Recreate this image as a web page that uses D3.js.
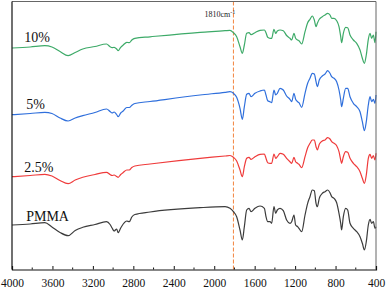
<!DOCTYPE html>
<html>
<head>
<meta charset="utf-8">
<script src="https://cdn.jsdelivr.net/npm/d3@7"></script>
<style>
html,body{margin:0;padding:0;background:#fff;}
svg{display:block;}
</style>
</head>
<body>
<svg id="chart" width="387" height="290"></svg>
<script>
// wavenumbers (cm-1), shared by all series
const wavenumbers = [4000,3820,3675,3605,3525,3445,3375,3300,3180,3065,3030,3010,2990,2965,2950,2925,2900,2865,2840,2815,2785,2635,2140,
  1893,1844,1810,1778,1745,1722,1702,1679,1656,1636,1597,1547,1504,1488,1471,1448,1432,1409,1392,1376,1349,1317,1284,1251,1234,1211,1195,1175,1162,1135,
  1102,1076,1053,1030,1010,993,980,961,931,904,878,855,838,815,789,766,749,740,723,700,680,657,624,591,558,535,515,496,476,459,443,426,410,400];

// transmittance (arbitrary units, stacked with offsets)
const pct10 = [222,223,224.3,223,218.5,214.3,217.5,221,223.5,226,223.3,222.3,222.7,221,219.3,222.7,225,227.7,227.3,230,231.7,233.2,237.7,
  239.3,239.7,237.3,233.3,223.3,216.7,225,236.7,237.3,235.3,237.3,239.7,240,237.3,232.7,231.7,231.7,240.7,236.5,239,240,239.3,234.5,231.7,230,236.7,231.7,230,229.3,226,
  238.3,247.3,250.7,254,250,243.3,246.7,250.7,253.3,255,256.7,255,251.7,251.7,249.3,243.3,233.3,227.3,236.7,242.7,242.3,235,230,226.7,220,211.7,206.7,215,230.7,236.7,231.7,235,227.3,238.3];

const pct5 = [155.3,156.5,157.7,156.5,152,149,152,154.3,157.5,161,158.5,157,158,155.5,153.3,157,159,162.5,162.5,164.7,166.5,168.5,175,
  177.7,178.3,176.7,172.7,161.7,150.7,163.3,175.7,176.7,173.3,176.7,179,180,175,169.3,168.3,167.3,180,175,176.7,181.7,180,174,170.7,168.3,176.7,170.7,168.3,167.3,162.7,
  176.7,186.7,191.7,196.7,196,188.3,183.3,190,194,196,199.3,196.7,193.3,191.7,188.3,180,170,163.3,171.7,181.7,181.7,173.3,166.7,163.3,158.3,148.3,139.3,148.3,165,173.3,168.3,170.7,166.7,175];

const pct2_5 = [93.3,94.5,95.7,94,89.5,86.3,90,92.7,95.5,97.7,95.5,94.5,95,93.5,92.7,95.5,97.5,100,100,102.5,104,106,111.7,
  114,114.5,112.7,109,100,93.3,103.3,111.7,112.7,110.7,113.3,115.7,116,111.7,107.3,106.7,106.7,116,111.7,113.3,116.7,115.7,111.7,108.3,106.7,112.7,108.3,106.7,105.7,102.3,
  113.3,122.3,126.7,130,130,123.3,120,125.7,129,130,132.3,131,128.3,126.7,124.3,118.3,110,106.7,113.3,118.3,117.7,111.7,106.7,103.3,98.3,91.7,86.7,95,111.7,115.7,111.7,114.3,110,116.7];

const pmma = [45,46,47.3,43,37.5,34.3,39.5,42.7,45.5,48.3,45.5,42,39,41,37.3,42,46,49,48.3,53,55.5,58,62.3,
  63.3,61.7,58.3,53.3,40,30,43.3,60,61.7,58.3,61.7,64,61.7,53.3,48.3,48.3,46.7,63.3,56.7,60,61.7,59.3,50,46.7,48.3,55,45,43.3,41.7,38.3,
  55,66.7,73.3,80,79.3,66.7,63.3,71.7,76.7,78.3,80,77.3,73.3,71.7,67.3,56.7,46.7,40,53.3,61.7,60,46.7,41.7,38.3,33.3,26.7,20,28.3,45,50.7,46.7,48.3,41.7,43.3];

const seriesNames = ["10%","5%","2.5%","PMMA"];
const seriesColors = ["#3daa68","#2f6fdc","#ef3b3b","#3c3c3c"];
const seriesValues = [pct10,pct5,pct2_5,pmma];
const labelAt = [3880,3860,3880,3860];
const labelValue = [228,161,98,49];

const xTicks = [4000,3600,3200,2800,2400,2000,1600,1200,800,400];
const xMinorTicks = [3800,3400,3000,2600,2200,1800,1400,1000,600];
const markerWn = 1810;
const markerText = "1810cm";
const markerSup = "-1";

const W = 387, H = 290;
const m = {left:12, right:11, top:1.5, bottom:20.5};
const svg = d3.select("#chart");

const x = d3.scaleLinear().domain([4000,400]).range([m.left, W - m.right]);
const y = d3.scaleLinear().domain([0,268]).range([270,2]);

const font = "'Liberation Serif','Times New Roman',serif";

// dashed marker line
svg.append("line")
  .attr("x1", x(markerWn)).attr("x2", x(markerWn))
  .attr("y1", m.top).attr("y2", H - m.bottom)
  .attr("stroke","#f2843f").attr("stroke-width",1)
  .attr("stroke-dasharray","4,2");

const mt = svg.append("text")
  .attr("x", x(markerWn) - 29).attr("y", 17)
  .attr("font-family", font).attr("font-size", 8).attr("fill","#222");
mt.append("tspan").text(markerText);
mt.append("tspan").attr("dy",-3.5).attr("font-size",6).text(markerSup);

// lines
const line = d3.line().x((d,i)=>x(wavenumbers[i])).y(d=>y(d)).curve(d3.curveMonotoneX);
seriesValues.forEach((vals,k)=>{
  svg.append("path").datum(vals)
    .attr("d", line)
    .attr("fill","none")
    .attr("stroke", seriesColors[k])
    .attr("stroke-width",1.2)
    .attr("stroke-linejoin","round");
  svg.append("text")
    .attr("x", x(labelAt[k])).attr("y", y(labelValue[k]))
    .attr("font-family", font).attr("font-size", 14).attr("fill","#111")
    .text(seriesNames[k]);
});

// frame
svg.append("line").attr("x1",m.left).attr("x2",W-m.right).attr("y1",m.top).attr("y2",m.top)
  .attr("stroke","#666").attr("stroke-width",1);
svg.append("line").attr("x1",W-m.right).attr("x2",W-m.right).attr("y1",m.top).attr("y2",H-m.bottom)
  .attr("stroke","#666").attr("stroke-width",1);

// x axis (ticks inward)
const xAxis = d3.axisBottom(x).tickValues(xTicks).tickSize(-3.5).tickPadding(9).tickFormat(d3.format("d"));
const gx = svg.append("g").attr("transform",`translate(0,${H-m.bottom})`).call(xAxis);
gx.select(".domain").attr("stroke","#111").attr("stroke-width",1.2);
gx.selectAll(".tick line").attr("stroke","#111");
gx.selectAll(".tick text").attr("font-family",font).attr("font-size",11.5).attr("fill","#111");
const gm = svg.append("g").attr("transform",`translate(0,${H-m.bottom})`);
gm.selectAll("line").data(xMinorTicks).join("line")
  .attr("x1",d=>x(d)).attr("x2",d=>x(d)).attr("y1",0).attr("y2",-2)
  .attr("stroke","#111");

// left axis line
svg.append("line").attr("x1",m.left).attr("x2",m.left).attr("y1",m.top).attr("y2",H-m.bottom)
  .attr("stroke","#111").attr("stroke-width",1.2);
</script>
</body>
</html>
